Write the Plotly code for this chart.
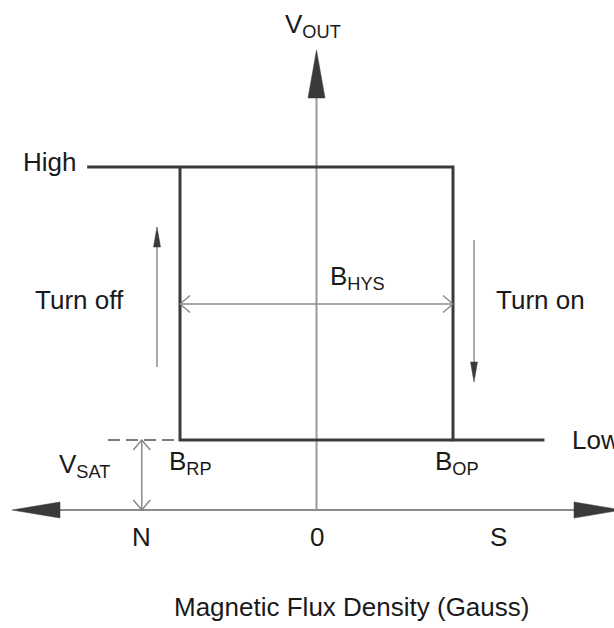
import plotly.graph_objects as go

# ---- data (schematic values) ----
level_names = ["High", "Low"]
V_LEVELS = [4.9, 1.0]          # V_OUT high level, low level (= V_SAT)
B_POINTS = [-1.0, 1.0]         # B_RP, B_OP
LINE_EXTENT = [-1.68, 1.67]    # where the High / Low output lines end
tick_labels = ["N", "0", "S"]
tick_pos = [-1.28, 0.0, 1.33]
x_title = "Magnetic Flux Density (Gauss)"
y_title = "V<sub>OUT</sub>"

V_HIGH, V_LOW = V_LEVELS
B_RP, B_OP = B_POINTS

# ---- layout scale (px per data unit) ----
W, H = 614, 628
KX, X0 = 136.5, 316.5
KY, Y0 = 70.0, 510.0
xr = [-X0 / KX, (W - X0) / KX]
yr = [(Y0 - H) / KY, Y0 / KY]

def px_x(d):
    return d / KX

def px_y(d):
    return d / KY

FONT = "Arial, Liberation Sans, sans-serif"
TXT = "#1a1a1a"
DARK = "#3a3a3a"
AXIS = "#9a9a9a"
FS = 26

fig = go.Figure()

def line(xs, ys, color, width, dash=None):
    fig.add_trace(go.Scatter(x=xs, y=ys, mode="lines",
                             line=dict(color=color, width=width, dash=dash),
                             hoverinfo="skip", showlegend=False))

def tri(xs, ys, color):
    fig.add_trace(go.Scatter(x=xs + [xs[0]], y=ys + [ys[0]], mode="lines",
                             fill="toself", fillcolor=color,
                             line=dict(color=color, width=0.5),
                             hoverinfo="skip", showlegend=False))

def chevron(x, y, direction, color="#808080", depth=10, half=8.5):
    # open chevron with tip at (x,y); direction one of 'l','r','u','d'
    if direction == "l":
        xs = [x + px_x(depth), x, x + px_x(depth)]
        ys = [y + px_y(half), y, y - px_y(half)]
    elif direction == "r":
        xs = [x - px_x(depth), x, x - px_x(depth)]
        ys = [y + px_y(half), y, y - px_y(half)]
    elif direction == "u":
        xs = [x - px_x(half), x, x + px_x(half)]
        ys = [y - px_y(depth), y, y - px_y(depth)]
    else:
        xs = [x - px_x(half), x, x + px_x(half)]
        ys = [y + px_y(depth), y, y + px_y(depth)]
    line(xs, ys, color, 1.3)

# ---- axes ----
v_tip = px_y(Y0 - 50)
v_base = px_y(Y0 - 98)
line([0, 0], [0, v_base + 0.02], AXIS, 2)
tri([-px_x(8.5), px_x(8.5), 0], [v_base, v_base, v_tip], DARK)

h_left_base, h_left_tip = xr[0] + px_x(60), xr[0] + px_x(12)
h_right_base, h_right_tip = xr[0] + px_x(574), xr[0] + px_x(622)
line([h_left_base - 0.01, h_right_base + 0.01], [0, 0], "#8c8c8c", 2)
tri([h_left_base, h_left_base, h_left_tip], [px_y(8), -px_y(8), 0], DARK)
tri([h_right_base, h_right_base, h_right_tip], [px_y(8), -px_y(8), 0], DARK)

# ---- dashed V_SAT reference ----
line([xr[0] + px_x(108), B_RP], [V_LOW, V_LOW], "#505050", 1.5, dash="12px,6px")

# ---- hysteresis loop ----
line([LINE_EXTENT[0], B_OP, B_OP, LINE_EXTENT[1]],
     [V_HIGH, V_HIGH, V_LOW, V_LOW], DARK, 3)
line([B_RP, B_RP, B_OP], [V_HIGH, V_LOW, V_LOW], DARK, 3)

# ---- B_HYS dimension arrow ----
y_hys = px_y(Y0 - 304)
line([B_RP, B_OP], [y_hys, y_hys], "#8a8a8a", 1.5)
chevron(B_RP, y_hys, "l")
chevron(B_OP, y_hys, "r")

# ---- V_SAT dimension arrow ----
x_sat = tick_pos[0]
line([x_sat, x_sat], [0, V_LOW], "#8a8a8a", 1.5)
chevron(x_sat, V_LOW, "u")
chevron(x_sat, 0, "d")

# ---- turn off / turn on direction arrows ----
x_off = xr[0] + px_x(157)
off_bot, off_tip = px_y(Y0 - 367), px_y(Y0 - 227)
line([x_off, x_off], [off_bot, off_tip - px_y(10)], "#7a7a7a", 1.3)
tri([x_off - px_x(3.5), x_off + px_x(3.5), x_off],
    [off_tip - px_y(20), off_tip - px_y(20), off_tip], "#3a3a3a")

x_on = xr[0] + px_x(474)
on_top, on_tip = px_y(Y0 - 240), px_y(Y0 - 382)
line([x_on, x_on], [on_top, on_tip + px_y(10)], "#7a7a7a", 1.3)
tri([x_on - px_x(3.5), x_on + px_x(3.5), x_on],
    [on_tip + px_y(20), on_tip + px_y(20), on_tip], "#3a3a3a")

# ---- text ----
def label(text, x, y, xanchor="center", yanchor="middle", size=FS):
    fig.add_annotation(x=x, y=y, xref="x", yref="y", text=text, showarrow=False,
                       xanchor=xanchor, yanchor=yanchor,
                       font=dict(family=FONT, size=size, color=TXT))

label(level_names[0], LINE_EXTENT[0] - px_x(9), V_HIGH + px_y(5), xanchor="right")
label(level_names[1], LINE_EXTENT[1] + px_x(26), V_LOW, xanchor="left")
label(y_title, px_x(-4), px_y(Y0 - 25))
label("B<sub>HYS</sub>", xr[0] + px_x(328), px_y(Y0 - 277), xanchor="left")
label("B<sub>RP</sub>", xr[0] + px_x(167), px_y(Y0 - 462), xanchor="left")
label("B<sub>OP</sub>", xr[0] + px_x(433), px_y(Y0 - 462), xanchor="left")
label("V<sub>SAT</sub>", xr[0] + px_x(57), px_y(Y0 - 465), xanchor="left")
label("Turn off", xr[0] + px_x(79), px_y(Y0 - 300))
label("Turn on", xr[0] + px_x(540), px_y(Y0 - 300))
for t, p in zip(tick_labels, tick_pos):
    label(t, p, px_y(Y0 - 537))
label(x_title, xr[0] + px_x(351), px_y(Y0 - 607))

fig.update_layout(
    width=W, height=H,
    margin=dict(l=0, r=0, t=0, b=0),
    paper_bgcolor="white", plot_bgcolor="white",
    showlegend=False,
    xaxis=dict(range=xr, visible=False, fixedrange=True),
    yaxis=dict(range=yr, visible=False, fixedrange=True),
)

fig.write_html("out.html",
               config={"displayModeBar": False},
               post_script="document.body.style.margin='0';document.body.style.overflow='hidden';")
